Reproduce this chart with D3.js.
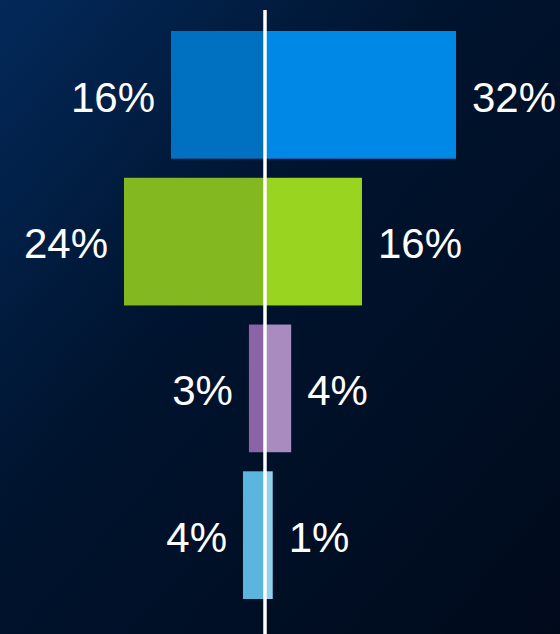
<!DOCTYPE html>
<html>
<head>
<meta charset="utf-8">
<script src="https://cdn.jsdelivr.net/npm/d3@7"></script>
<style>
  html, body { margin: 0; padding: 0; background: #000d22; }
  svg { display: block; }
</style>
</head>
<body>
<svg id="chart" width="560" height="634"></svg>
<script>
// values (percent), left side and right side of the centre line
const rows = ["a", "b", "c", "d"];
const leftValues = [15.8, 23.7, 2.7, 3.7];
const rightValues = [32.1, 16.3, 4.4, 1.3];
const leftColors = ["#0070c0", "#84b820", "#8b63a7", "#5bb6de"];
const rightColors = ["#0088e6", "#98d420", "#a98bbf", "#93d1ec"];

const width = 560;
const height = 634;
const centre = 265;
const pxPerPct = 5.95;

const svg = d3.select("#chart");

// background
const defs = svg.append("defs");
const grad = defs.append("linearGradient")
  .attr("id", "bg")
  .attr("x1", 0).attr("y1", 0).attr("x2", 1).attr("y2", 1);
grad.append("stop").attr("offset", 0).attr("stop-color", "#03295a");
grad.append("stop").attr("offset", 0.4).attr("stop-color", "#00142f");
grad.append("stop").attr("offset", 1).attr("stop-color", "#000a1b");
svg.append("rect").attr("width", width).attr("height", height).attr("fill", "url(#bg)");

// x scale: 0 at the centre line
const x = d3.scaleLinear()
  .domain([-centre / pxPerPct, (width - centre) / pxPerPct])
  .range([0, width]);

const y = d3.scaleBand()
  .domain(rows)
  .range([31, 599])
  .paddingInner(0.13)
  .paddingOuter(0);

const fmt = (v) => d3.format(".0f")(v) + "%";

const data = rows.map((r, i) => ({
  row: r,
  left: leftValues[i],
  right: rightValues[i],
  lc: leftColors[i],
  rc: rightColors[i],
}));

const g = svg.append("g");

// left bars
g.selectAll("rect.left")
  .data(data)
  .join("rect")
  .attr("class", "left")
  .attr("x", (d) => x(-d.left))
  .attr("y", (d) => y(d.row))
  .attr("width", (d) => x(0) - x(-d.left))
  .attr("height", y.bandwidth())
  .attr("fill", (d) => d.lc);

// right bars
g.selectAll("rect.right")
  .data(data)
  .join("rect")
  .attr("class", "right")
  .attr("x", x(0))
  .attr("y", (d) => y(d.row))
  .attr("width", (d) => x(d.right) - x(0))
  .attr("height", y.bandwidth())
  .attr("fill", (d) => d.rc);

// labels
const labelStyle = (sel) =>
  sel
    .attr("fill", "#ffffff")
    .attr("font-family", "Liberation Sans, Arial, sans-serif")
    .attr("font-size", "42px")
    .attr("dy", "0.4em");

g.selectAll("text.left")
  .data(data)
  .join("text")
  .attr("class", "left")
  .attr("x", (d) => x(-d.left) - 16)
  .attr("y", (d) => y(d.row) + y.bandwidth() / 2)
  .attr("text-anchor", "end")
  .call(labelStyle)
  .text((d) => fmt(d.left));

g.selectAll("text.right")
  .data(data)
  .join("text")
  .attr("class", "right")
  .attr("x", (d) => x(d.right) + 16)
  .attr("y", (d) => y(d.row) + y.bandwidth() / 2)
  .attr("text-anchor", "start")
  .call(labelStyle)
  .text((d) => fmt(d.right));

// centre line
svg.append("line")
  .attr("x1", x(0))
  .attr("x2", x(0))
  .attr("y1", 10)
  .attr("y2", height)
  .attr("stroke", "#ffffff")
  .attr("stroke-width", 3.5);
</script>
</body>
</html>
